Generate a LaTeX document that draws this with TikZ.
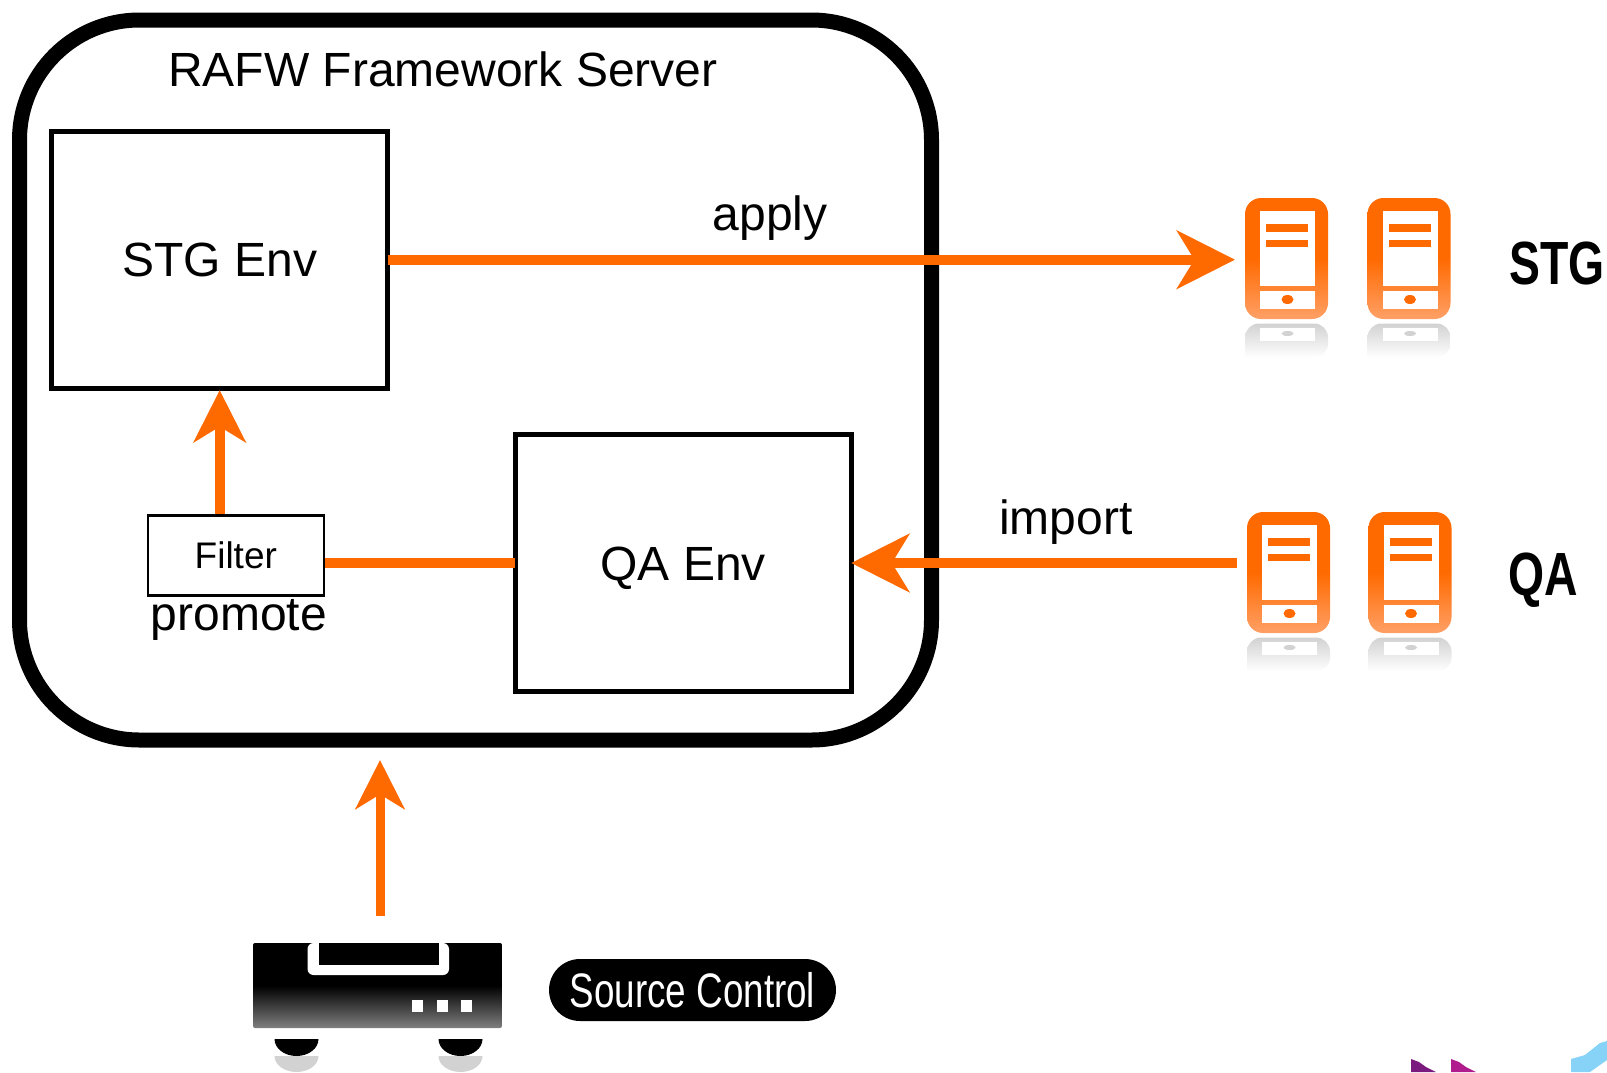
\documentclass[tikz,border=0pt]{standalone}
\usepackage{fontspec}
\setmainfont{Liberation Sans}
\newfontfamily\narrowfont[FakeStretch=0.76]{Liberation Sans}
\usetikzlibrary{positioning, arrows.meta}
\definecolor{rafworange}{HTML}{FF6A00}
\definecolor{rafwpale}{HTML}{FFA066}
\definecolor{rafwshadow}{HTML}{D2D2D2}
\definecolor{rafwpurple}{HTML}{7B1A7E}
\definecolor{rafwmagenta}{HTML}{B01C8E}
\definecolor{rafwblue}{HTML}{87D2F7}
\tikzset{
	framebox/.style={draw=black, line width=7.5pt, rounded corners=60pt, minimum width=456pt, minimum height=360pt, inner sep=0pt},
	envbox/.style={draw=black, line width=2.4pt, outer sep=0pt, minimum width=168pt, minimum height=128.5pt, text height=19pt, text depth=2pt, font=\fontsize{24}{28}\selectfont},
	filterbox/.style={draw=black, line width=1.2pt, minimum width=88pt, minimum height=40pt, font=\fontsize{18.5}{22}\selectfont},
	caption/.style={font=\fontsize{24}{28}\selectfont},
	hostlabel/.style={text height=22pt, text depth=2pt, font=\narrowfont\bfseries\fontsize{30.5}{34}\selectfont},
	flow/.style={draw=rafworange, line width=5pt, -{Stealth[length=#1, width=#1, inset=0.3*#1]}},
	flow/.default=29pt,
	flowplain/.style={draw=rafworange, line width=5pt},
	phonebody/.style={rectangle, rounded corners=8pt, minimum width=41.5pt, minimum height=60.5pt, inner sep=0pt, outer sep=0pt, top color=rafworange, bottom color=rafwpale, middle color=rafworange},
	serverbody/.style={rectangle, rounded corners=1pt, minimum width=124.5pt, minimum height=42.5pt, inner sep=0pt, outer sep=0pt, top color=black, bottom color=black!50, middle color=black},
	pillbox/.style={fill=black, rounded corners=15.5pt, minimum width=143.5pt, minimum height=31pt, inner sep=0pt, text=white, font=\narrowfont\fontsize{24.2}{28}\selectfont},
	phonedetail/.pic={
		\fill[white] (-26.5,-48) rectangle (28.5,27);
		\fill[white] (-26.5,32) rectangle (28.5,50);
		\fill[rafworange] (-20.5,-34.5) rectangle (21.5,-26.5);
		\fill[rafworange] (-20.5,-18.5) rectangle (21.5,-11.5);
		\fill[rafworange] (1,41) ellipse (6 and 4.5);
		\shade[top color=rafwshadow, bottom color=white, rounded corners=7pt] (-41.5,99) -- (-41.5,65) -- (41.5,65) -- (41.5,99) [sharp corners] -- cycle;
		\fill[white] (-26.5,69) rectangle (28.5,82);
		\fill[rafwshadow] (1,75) ellipse (6 and 2.5);
	},
	serverfoot/.pic={
		\fill[rafwshadow] (-22,17) arc (180:360:22 and -16) -- cycle;
		\fill[black] (-22,0) -- (22,0) arc (0:-180:22 and -17) -- cycle;
	}
}
\begin{document}
\begin{tikzpicture}[x=0.5pt, y=-0.5pt]
	\useasboundingbox (0,0) rectangle (1607,1072);

	\node[framebox] (Frame) at (475.5,380) {};
	\node[caption] (FrameTitle) at (443,69) {RAFW Framework Server};
	\node[envbox] (STG) at (219.7,259.7) {STG Env};
	\node[envbox] (QA) at (683.2,563) {QA Env};
	\node[filterbox] (Filter) at (235.8,555.5) {Filter};
	\node[caption] (Promote) at (239,620) {promote};

	\node[phonebody] (S1) at (1286.5,258.5) {};
	\node[phonebody] (S2) at (1409,258.5) {};
	\node[phonebody] (Q1) at (1288.5,572.5) {};
	\node[phonebody] (Q2) at (1410,572.5) {};
	\pic at (S1) {phonedetail};
	\pic at (S2) {phonedetail};
	\pic at (Q1) {phonedetail};
	\pic at (Q2) {phonedetail};
	\node[hostlabel] (StgLabel) at (1557,264) {STG};
	\node[hostlabel] (QaLabel) at (1543,575) {QA};

	\node[serverbody] (Server) at (377.5,985.5) {};
	\fill[white, rounded corners=3pt] (307.5,943) -- (307.5,975) -- (449,975) -- (449,943) -- cycle;
	\fill[black] (319,943) rectangle (439,965);
	\foreach \x in {412,437,461}
		\fill[white] (\x,1000) rectangle +(11,12);
	\pic at (296.5,1039) {serverfoot};
	\pic at (460.5,1039) {serverfoot};
	\node[pillbox] (Source) at (692.5,990) {Source Control};

	\node[caption] (Apply) at (770,218) {apply};
	\node[caption] (Import) at (1066,522) {import};

	\coordinate (SourceTip) at (380,760);
	\coordinate (SourceTail) at (380,916);

	\draw[flow, shorten >=5pt] (STG.east) -- (S1.west |- STG.east);
	\draw[flow, shorten <=5pt] (Q1.west |- QA.east) -- (QA.east);
	\draw[flowplain] (QA.west) -- (QA.west -| Filter.east);
	\draw[flow=26pt, shorten >=1pt] (STG.south |- Filter.north) -- (STG.south);
	\draw[flow=24.5pt, line width=4.5pt] (SourceTail) -- (SourceTip);

	\fill[rafwpurple] (1411,1059) -- (1411,1072) -- (1436,1072) -- (1426,1067) -- (1419,1062) -- cycle;
	\fill[rafwmagenta] (1451,1059) -- (1451,1072) -- (1476,1072) -- (1466,1067) -- (1459,1062) -- cycle;
	\fill[rafwblue] (1571,1059) -- (1585,1055) -- (1600,1043) -- (1607,1041) -- (1607,1060) -- (1590,1072) -- (1571,1072) -- cycle;
\end{tikzpicture}
\end{document}
